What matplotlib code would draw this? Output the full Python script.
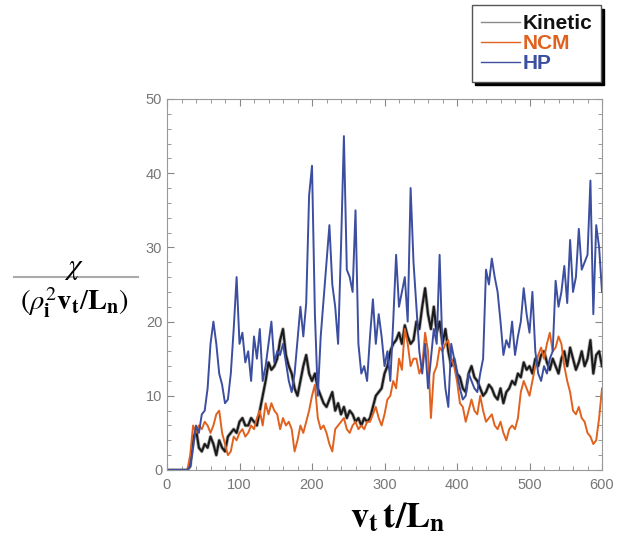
import matplotlib
matplotlib.use("Agg")
import matplotlib.pyplot as plt
from matplotlib.lines import Line2D
from matplotlib.ticker import MultipleLocator
import numpy as np

plt.rcParams['mathtext.fontset'] = 'stix'
plt.rcParams['font.family'] = ['Liberation Sans', 'DejaVu Sans']

# time axis v_t t / L_n, sampled every 4 units
time = np.arange(0, 601, 4)

hp = [0, 0, 0, 0, 0, 0, 0, 0, 0.5, 3,
      6, 5, 7.5, 8, 11, 17, 20, 17, 13, 11.5,
      9, 9.5, 13, 19, 26, 17, 18.5, 14.5, 16, 12,
      18, 15, 19, 12, 14, 17, 20, 14.5, 16, 15.5,
      17, 14.5, 12, 10.5, 13, 17.5, 22, 18, 22.5, 37,
      41, 21, 10, 18, 23, 28, 33, 25, 22, 17,
      30, 45, 27, 26, 24, 35, 17, 13, 14, 12,
      18, 23, 17, 21, 18, 14, 16, 12, 20, 29,
      22, 24, 26, 20, 38, 28, 22, 16, 13, 17,
      11, 15, 19, 17, 29, 16, 11, 8.5, 17, 15,
      13, 11, 9.5, 10, 13, 12, 11, 10.5, 13, 15,
      27, 25, 28.5, 26, 24, 20, 15.5, 17.5, 16.5, 20,
      15.5, 18, 20, 24.5, 21, 18.5, 24, 16, 13, 12,
      14, 13, 15, 16, 25.5, 22, 24, 27.5, 22.5, 31,
      24, 26, 32.5, 27, 28, 29, 39, 21, 33, 30,
      24]

kinetic = [0, 0, 0, 0, 0, 0, 0, 0, 0.5, 4,
           5.5, 3, 2.5, 3.5, 3, 4.5, 3.5, 2, 4, 3,
           2.5, 4.5, 5, 5.5, 5, 6.5, 7, 6, 6, 7,
           6.5, 6, 8, 10, 12, 14.5, 13.5, 14, 15, 17.5,
           19, 15.5, 14, 13, 11, 10, 12, 14, 15.5, 13,
           12, 13, 11, 10, 9, 8.5, 9.5, 10.5, 8, 9,
           7.5, 8.5, 7, 8, 7.5, 6.5, 7, 6, 7, 6.5,
           7, 8.5, 10, 10.5, 11, 13, 14, 16, 17, 17.5,
           18.5, 17, 19.5, 18, 17, 17.5, 20, 19, 22, 24.5,
           21, 19, 22, 18.5, 20, 17, 19, 16, 14, 15,
           13, 12.5, 11, 10.5, 13, 14, 12.5, 12, 11, 10,
           10.5, 11.5, 11, 10, 9.5, 11, 9, 10.5, 11, 12,
           11.5, 13, 12.5, 14.5, 13.5, 14, 13, 15, 14, 15.5,
           16, 14.5, 13.5, 15, 14, 13, 15, 16, 14, 16.5,
           15, 13.5, 14.5, 16, 14, 15, 17.5, 13, 15.5, 16,
           14]

ncm = [0, 0, 0, 0, 0, 0, 0, 0, 2, 6,
       5, 6, 5.5, 6.5, 6, 5, 6, 7.5, 8, 5,
       3.5, 2, 2.5, 4.5, 4, 5, 5.5, 4.5, 5, 6,
       5.5, 7, 8, 6, 9, 7.5, 9, 8, 7.5, 5.5,
       7, 6, 6.5, 5.5, 2.5, 4, 6, 5, 6.5, 8,
       10, 11.5, 7, 5.5, 6, 5, 3.5, 2.5, 5.5, 6,
       6.5, 7, 5.5, 5, 6, 6.5, 5.5, 6, 5.5, 6.5,
       6.5, 7.5, 8.5, 7, 6, 7.5, 9.5, 10, 12, 11,
       15, 13.5, 19, 17, 14, 15, 15, 13, 14, 18.5,
       16, 7, 13, 14, 16.5, 16, 17, 17.5, 15, 14,
       12, 9, 8.5, 6.5, 8, 9.5, 8, 7.5, 10, 8,
       6.5, 7, 7.5, 6, 5.5, 6.5, 5, 4, 5.5, 6,
       5.5, 7, 10.5, 12, 11, 10, 12, 14, 15.5, 16.5,
       15, 17, 18.5, 16, 16.5, 18, 17, 14, 12, 10.5,
       8, 7.5, 8.5, 7, 6.5, 5, 4.5, 3.5, 4, 7,
       11]

series_labels = ['Kinetic', 'NCM', 'HP']
x_ticks = [0, 100, 200, 300, 400, 500, 600]
y_ticks = [0, 10, 20, 30, 40, 50]

fig = plt.figure(figsize=(6.29, 5.38), dpi=100)
ax = fig.add_axes([0.2655, 0.1264, 0.6916, 0.6896])

c_kin = '#1a1a1a'
c_ncm = '#e0621e'
c_hp = '#3c4ea0'

ax.plot(time, kinetic, color='#777777', lw=2.6, alpha=0.6)
ax.plot(time, kinetic, color=c_kin, lw=1.5)
ax.plot(time, ncm, color=c_ncm, lw=1.4)
ax.plot(time, hp, color=c_hp, lw=1.4)

ax.set_xlim(0, 600)
ax.set_ylim(0, 50)
ax.set_xticks(x_ticks)
ax.set_yticks(y_ticks)
ax.xaxis.set_minor_locator(MultipleLocator(20))
ax.yaxis.set_minor_locator(MultipleLocator(2))
ax.tick_params(which='both', direction='in', top=True, right=True,
               colors='#888888', labelcolor='#777777', labelsize=10.5)
ax.tick_params(which='major', length=5)
ax.tick_params(which='minor', length=3)
ax.tick_params(axis='x', pad=6)
for s in ax.spines.values():
    s.set_color('#999999')

# legend
handles = [Line2D([], [], color='#8a8a8a', lw=1),
           Line2D([], [], color=c_ncm, lw=1),
           Line2D([], [], color=c_hp, lw=1)]
leg = ax.legend(handles, series_labels, loc='upper right',
                bbox_to_anchor=(0.955, 0.99), bbox_transform=fig.transFigure,
                frameon=True, fancybox=False,
                shadow={'ox': 2.5, 'oy': -2.5, 'color': 'black', 'alpha': 1.0},
                edgecolor='#555555',
                handlelength=1.9, handletextpad=0.1, borderpad=0.42,
                labelspacing=0.05, prop={'weight': 'bold', 'size': 15},
                labelcolor=['#111111', c_ncm, c_hp], borderaxespad=0)
leg.get_frame().set_linewidth(1.0)

# y label as a fraction
fig.text(0.118, 0.502, r'$\chi$', fontsize=21, ha='center', va='center')
fig.add_artist(Line2D([0.022, 0.220], [0.485, 0.485], transform=fig.transFigure,
                      color='#aaaaaa', lw=1.5))
fig.text(0.118, 0.437, r'$(\rho_{\mathbf{i}}^{2}\mathbf{v}_{\mathbf{t}}/\mathbf{L}_{\mathbf{n}})$',
         fontsize=20.5, ha='center', va='center')

# x label
fig.text(0.633, 0.0204, r'$\mathbf{v}_{\mathbf{t}}\,\mathbf{t/L}_{\mathbf{n}}$',
         fontsize=26, ha='center', va='baseline')

fig.savefig('out.png', dpi=100)
